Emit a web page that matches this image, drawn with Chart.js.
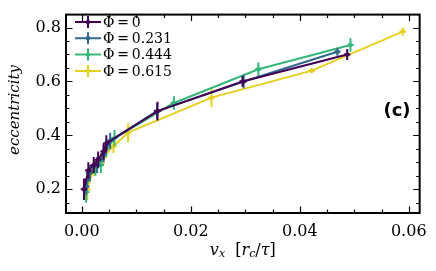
<!DOCTYPE html>
<html>
<head>
<meta charset="utf-8">
<script src="https://cdn.jsdelivr.net/npm/chart.js@4/dist/chart.umd.min.js"></script>
<style>
  html, body { margin: 0; padding: 0; background: #fff; }
  #wrap { width: 436px; height: 271px; }
</style>
</head>
<body>
<div id="wrap"><canvas id="c" width="436" height="271"></canvas></div>
<script>
// values
const seriesLabels = ['Φ\u2009=\u20090', 'Φ\u2009=\u20090.231', 'Φ\u2009=\u20090.444', 'Φ\u2009=\u20090.615'];
const seriesColors = ['#440154', '#31688e', '#35b779', '#e5d020'];

const phi0X = [0.0004, 0.0012, 0.0022, 0.0030, 0.0040, 0.0045, 0.0139, 0.0295, 0.0487];
const phi0Y = [0.20, 0.27, 0.29, 0.31, 0.34, 0.37, 0.49, 0.60, 0.70];
const phi0Err = [0.04, 0.03, 0.03, 0.03, 0.03, 0.03, 0.035, 0.02, 0.02];

const phi1X = [0.0008, 0.0015, 0.0028, 0.0040, 0.0052, 0.0138, 0.0297, 0.0469];
const phi1Y = [0.21, 0.26, 0.29, 0.33, 0.38, 0.49, 0.60, 0.71];
const phi1Err = [0.03, 0.03, 0.03, 0.03, 0.03, 0.03, 0.025, 0.015];

const phi2X = [0.0008, 0.0013, 0.0025, 0.0035, 0.0045, 0.0060, 0.0169, 0.0324, 0.0493];
const phi2Y = [0.19, 0.26, 0.28, 0.29, 0.35, 0.39, 0.52, 0.645, 0.735];
const phi2Err = [0.04, 0.03, 0.03, 0.03, 0.03, 0.03, 0.025, 0.025, 0.025];

const phi3X = [0.0010, 0.0022, 0.0040, 0.0058, 0.0085, 0.0238, 0.0422, 0.0589];
const phi3Y = [0.20, 0.28, 0.32, 0.36, 0.41, 0.54, 0.64, 0.785];
const phi3Err = [0.04, 0.03, 0.025, 0.025, 0.035, 0.035, 0.01, 0.015];

const xTicks = [0.00, 0.02, 0.04, 0.06];
const yTicks = [0.2, 0.4, 0.6, 0.8];

const allX = [phi0X, phi1X, phi2X, phi3X];
const allY = [phi0Y, phi1Y, phi2Y, phi3Y];
const allErr = [phi0Err, phi1Err, phi2Err, phi3Err];

const datasets = allX.map((xs, i) => ({
  label: seriesLabels[i],
  data: xs.map((x, j) => ({ x: x, y: allY[i][j] })),
  errs: allErr[i],
  borderColor: seriesColors[i],
  backgroundColor: seriesColors[i],
  borderWidth: 2,
  pointRadius: 2.2,
  pointBorderWidth: 0,
  pointHoverRadius: 2.2,
  showLine: true,
  tension: 0
}));

const errorBars = {
  id: 'errorBars',
  beforeDatasetDraw(chart, args) {
    const ds = chart.data.datasets[args.index];
    const xs = chart.scales.x, ys = chart.scales.y;
    const ctx = chart.ctx;
    ctx.save();
    ctx.strokeStyle = ds.borderColor;
    ctx.lineWidth = 2;
    ds.data.forEach((p, j) => {
      const px = xs.getPixelForValue(p.x);
      const y1 = ys.getPixelForValue(p.y - ds.errs[j]);
      const y2 = ys.getPixelForValue(p.y + ds.errs[j]);
      const x1 = xs.getPixelForValue(p.x - 0.0006);
      const x2 = xs.getPixelForValue(p.x + 0.0006);
      const py = ys.getPixelForValue(p.y);
      ctx.beginPath();
      ctx.moveTo(px, y1); ctx.lineTo(px, y2);
      ctx.moveTo(x1, py); ctx.lineTo(x2, py);
      ctx.stroke();
    });
    ctx.restore();
  }
};

const frame = {
  id: 'frame',
  afterDraw(chart) {
    const ctx = chart.ctx;
    const a = chart.chartArea;
    const xs = chart.scales.x, ys = chart.scales.y;
    ctx.save();
    ctx.strokeStyle = '#000';
    ctx.lineWidth = 1.2;
    ctx.beginPath();
    // x ticks, major and minor, inward on bottom and top
    for (let k = 0; k <= 12; k++) {
      const v = k * 0.005;
      const px = Math.round(xs.getPixelForValue(v)) + 0.5;
      const len = k % 4 === 0 ? 6.5 : 3.5;
      ctx.moveTo(px, a.bottom); ctx.lineTo(px, a.bottom - len);
      ctx.moveTo(px, a.top); ctx.lineTo(px, a.top + len);
    }
    for (let k = 3; k <= 16; k++) {
      const v = k * 0.05;
      const py = Math.round(ys.getPixelForValue(v)) + 0.5;
      const len = k % 4 === 0 ? 6.5 : 3.5;
      ctx.moveTo(a.left, py); ctx.lineTo(a.left + len, py);
      ctx.moveTo(a.right, py); ctx.lineTo(a.right - len, py);
    }
    ctx.stroke();
    ctx.lineWidth = 2;
    ctx.strokeRect(a.left, a.top, a.right - a.left, a.bottom - a.top);

    // legend
    ctx.font = '14px "DejaVu Serif"';
    ctx.textBaseline = 'middle';
    chart.data.datasets.forEach((ds, i) => {
      const y = 22 + i * 16.3;
      ctx.strokeStyle = ds.borderColor;
      ctx.fillStyle = ds.borderColor;
      ctx.lineWidth = 2;
      ctx.beginPath();
      ctx.moveTo(75, y); ctx.lineTo(101, y);
      ctx.moveTo(88, y - 6); ctx.lineTo(88, y + 6);
      ctx.stroke();
      ctx.beginPath();
      ctx.arc(88, y, 2.2, 0, Math.PI * 2);
      ctx.fill();
      ctx.fillStyle = '#000';
      ctx.fillText(ds.label, 103, y + 1);
    });

    // panel tag
    ctx.font = 'bold 18px "DejaVu Sans"';
    ctx.textAlign = 'center';
    ctx.fillText('(c)', 397, 111);

    // axis titles
    ctx.font = 'italic 15px "DejaVu Serif"';
    ctx.save();
    ctx.translate(15, 110);
    ctx.rotate(-Math.PI / 2);
    ctx.fillText('eccentricity', 0, 0);
    ctx.restore();

    const cx = (a.left + a.right) / 2;
    const parts = [
      ['v', 'italic 16px "DejaVu Serif"', 0],
      ['x', 'italic 11px "DejaVu Serif"', 3],
      ['  [', '16px "DejaVu Serif"', 0],
      ['r', 'italic 16px "DejaVu Serif"', 0],
      ['c', 'italic 11px "DejaVu Serif"', 3],
      ['/', '16px "DejaVu Serif"', 0],
      ['τ', 'italic 16px "DejaVu Serif"', 0],
      [']', '16px "DejaVu Serif"', 0]
    ];
    let total = 0;
    parts.forEach(p => { ctx.font = p[1]; total += ctx.measureText(p[0]).width; });
    let x = cx - total / 2;
    ctx.textAlign = 'left';
    parts.forEach(p => {
      ctx.font = p[1];
      ctx.fillText(p[0], x, 251 + p[2]);
      x += ctx.measureText(p[0]).width;
    });
    ctx.restore();
  }
};

new Chart(document.getElementById('c'), {
  type: 'scatter',
  data: { datasets: datasets },
  options: {
    responsive: false,
    animation: false,
    layout: { padding: { left: 0, right: 14, top: 6, bottom: 0 } },
    plugins: { legend: { display: false }, tooltip: { enabled: false } },
    scales: {
      x: {
        type: 'linear',
        min: -0.0029,
        max: 0.062,
        grid: { display: false, drawTicks: false },
        border: { display: false },
        afterBuildTicks: s => { s.ticks = xTicks.map(v => ({ value: v })); },
        afterFit: s => { s.height = 58; },
        ticks: {
          padding: 9,
          color: '#000',
          font: { family: 'DejaVu Serif', size: 16 },
          callback: v => v.toFixed(2)
        }
      },
      y: {
        type: 'linear',
        min: 0.112,
        max: 0.848,
        grid: { display: false, drawTicks: false },
        border: { display: false },
        afterBuildTicks: s => { s.ticks = yTicks.map(v => ({ value: v })); },
        afterFit: s => { s.width = 66; },
        ticks: {
          padding: 5,
          color: '#000',
          font: { family: 'DejaVu Serif', size: 16 },
          callback: v => v.toFixed(1)
        }
      }
    }
  },
  plugins: [errorBars, frame]
});
</script>
</body>
</html>
